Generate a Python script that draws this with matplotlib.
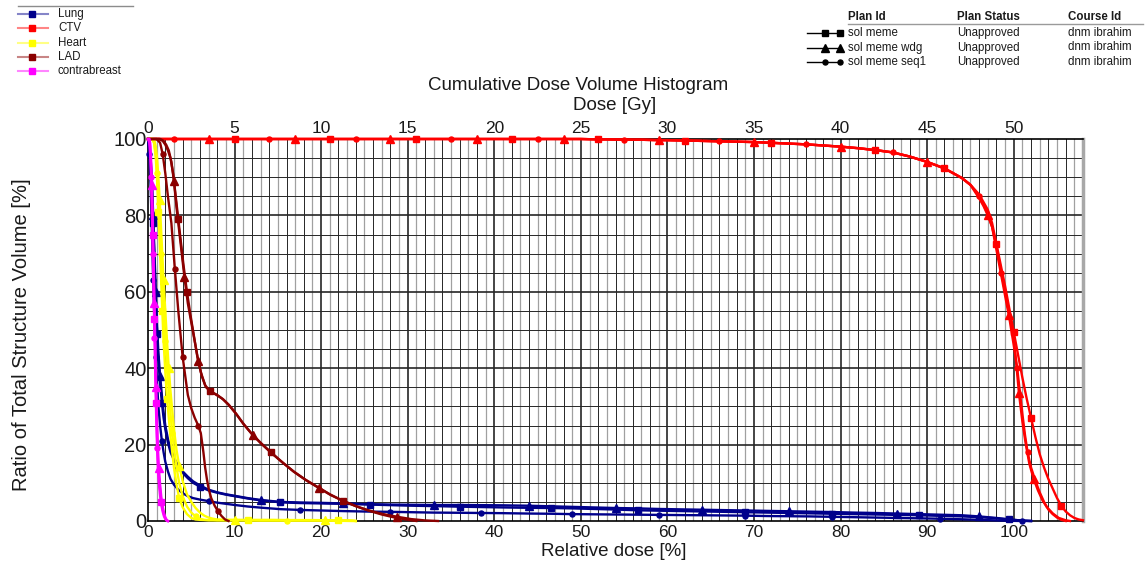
import numpy as np
import matplotlib
matplotlib.use("Agg")
import matplotlib.pyplot as plt
from matplotlib.lines import Line2D

plt.rcParams['font.family'] = ['Liberation Sans', 'DejaVu Sans']

W, H = 1147, 569

# ---------------------------------------------------------------- data
structures = ["Lung", "CTV", "Heart", "LAD", "contrabreast"]
structure_colors = ["#00008b", "#ff0000", "#ffff00", "#8b0000", "#ff00ff"]
legend_line_colors = ["#8585c8", "#ff8585", "#ffff85", "#c88585", "#ff85ff"]

plan_ids = ["sol meme", "sol meme wdg", "sol meme seq1"]
plan_status = ["Unapproved", "Unapproved", "Unapproved"]
course_ids = ["dnm ibrahim", "dnm ibrahim", "dnm ibrahim"]

x_ticks_pct = [0, 10, 20, 30, 40, 50, 60, 70, 80, 90, 100]
y_ticks_pct = [0, 20, 40, 60, 80, 100]
top_ticks_gy = [0, 5, 10, 15, 20, 25, 30, 35, 40, 45, 50]
prescription_gy = 50.0

# Lung (relative dose %, volume %)
lung_dose = [0, 0.15, 0.3, 0.45, 0.6, 0.75, 0.9, 1.05, 1.2, 1.4,
             1.6, 1.8, 2.0, 2.3, 2.6, 3.0, 3.5, 4.0, 4.6, 5.2,
             6.0, 7.0, 8.0, 9.0, 10.0, 11.5, 13.0, 15.3, 17.5, 20.0,
             22.5, 25.7, 28.0, 30.5, 33.0, 36.0, 38.5, 41.0, 44.0, 46.5,
             49.0, 51.5, 54.0, 56.6, 59.0, 61.5, 64.0, 66.5, 69.0, 71.5,
             74.0, 76.5, 79.0, 81.5, 84.0, 86.5, 89.0, 91.5, 94.0, 96.0,
             98.0, 99.5, 101.0, 102.0]
lung_meme_vol = [100, 98, 94, 88, 78, 68, 58, 49, 42, 36,
                 31, 27, 24, 20.5, 18, 16, 14, 12.6, 11.2, 10.0,
                 9.0, 8.0, 7.4, 6.9, 6.5, 5.9, 5.4, 4.9, 4.7, 4.6,
                 4.5, 4.3, 4.15, 4.0, 3.9, 3.75, 3.65, 3.55, 3.45, 3.4,
                 3.3, 3.15, 3.0, 2.8, 2.7, 2.6, 2.5, 2.4, 2.3, 2.2,
                 2.1, 2.0, 1.9, 1.8, 1.7, 1.6, 1.5, 1.35, 1.2, 1.0,
                 0.7, 0.4, 0.1, 0]
lung_wdg_vol = [100, 98, 95, 89, 80, 70, 60, 51, 44, 38,
                33, 28.5, 25, 21.5, 19, 16.5, 14.5, 13.0, 11.6, 10.4,
                9.3, 8.2, 7.5, 7.0, 6.6, 6.0, 5.5, 5.0, 4.85, 4.75,
                4.6, 4.4, 4.3, 4.25, 4.2, 4.2, 4.15, 4.1, 4.0, 3.85,
                3.7, 3.55, 3.4, 3.3, 3.15, 3.05, 2.95, 2.85, 2.75, 2.65,
                2.55, 2.45, 2.35, 2.2, 2.1, 1.95, 1.8, 1.65, 1.5, 1.2,
                0.8, 0.4, 0.1, 0]
lung_seq1_vol = [100, 96, 88, 76, 63, 52, 43, 36, 30, 25,
                 21, 18, 15.5, 13, 11, 9.5, 8.2, 7.3, 6.5, 6.0,
                 5.6, 5.2, 4.8, 4.5, 4.2, 3.8, 3.5, 3.1, 2.9, 2.75,
                 2.6, 2.45, 2.4, 2.3, 2.2, 2.15, 2.1, 2.05, 1.95, 1.9,
                 1.8, 1.75, 1.7, 1.65, 1.6, 1.55, 1.5, 1.45, 1.4, 1.3,
                 1.25, 1.2, 1.1, 1.0, 0.9, 0.8, 0.7, 0.6, 0.45, 0.3,
                 0.15, 0.05, 0, 0]

# CTV: common plateau and shoulder, then separate fall-off per plan
ctv_shoulder_dose = list(range(0, 61)) + list(range(62, 95, 2)) + [95]
ctv_shoulder_vol = ([100.0] * 51
                    + [99.95, 99.9, 99.9, 99.85, 99.85, 99.8, 99.8, 99.75, 99.7, 99.7]
                    + [99.6, 99.5, 99.4, 99.3, 99.2, 99.0, 98.8, 98.6, 98.3,
                       98.0, 97.6, 97.1, 96.5, 95.4, 94.0, 92.3, 89.8]
                    + [88.0])
ctv_meme_tail_dose = [96, 97, 97.5, 98, 98.5, 99, 99.5, 100, 100.5, 101,
                      101.5, 102, 102.5, 103, 103.5, 104, 104.5, 105, 105.5, 106,
                      106.5, 107, 107.5, 108]
ctv_meme_tail_vol = [85.5, 81.5, 78, 72.5, 67, 61.5, 55.5, 49.5, 43.5, 37.5,
                     32, 27, 22, 17.5, 14, 11, 8.5, 6, 4, 2.5,
                     1.5, 0.8, 0.4, 0.2]
ctv_wdg_tail_dose = [96, 96.5, 97, 97.5, 98, 98.5, 99, 99.5, 100, 100.3,
                     100.6, 101, 101.4, 101.8, 102.3, 102.8, 103.3, 103.8, 104.5, 105.2,
                     106, 106.5]
ctv_wdg_tail_vol = [84.5, 82.5, 80, 77, 72, 66, 60, 54, 48, 41,
                    33.5, 26, 20, 15, 11, 8, 5.5, 3.7, 2, 0.8,
                    0.2, 0]
ctv_seq1_tail_dose = [96, 97, 97.5, 98, 98.5, 99, 99.5, 100, 100.4, 100.7,
                      101, 101.3, 101.6, 102, 102.5, 103, 103.5, 104, 104.5, 105,
                      105.5, 106]
ctv_seq1_tail_vol = [85, 80.5, 77, 71, 65, 59, 53, 46, 40, 34,
                     28, 22.5, 18, 14, 10.5, 7.5, 5, 3, 1.8, 0.9,
                     0.3, 0]

# Heart
heart_dose = [0, 0.5, 0.7, 0.9, 1.05, 1.2, 1.35, 1.5, 1.65, 1.8,
              2.0, 2.2, 2.4, 2.6, 2.8, 3.0, 3.3, 3.6, 4.0, 4.5,
              5.0, 5.5, 6.0, 6.5, 7.0, 7.5, 8.0, 9.0, 10, 11.5,
              13, 14.5, 16, 17.5, 19, 20.5, 22, 23.5, 24.0]
heart_meme_vol = [100, 100, 99, 95, 89, 81, 73, 64, 55, 47,
                  39, 32, 27, 22, 18, 14, 9.5, 6, 3.6, 1.8,
                  0.8, 0.4, 0.3, 0.25, 0.25, 0.25, 0.25, 0.25, 0.25, 0.2,
                  0.2, 0.2, 0.2, 0.2, 0.2, 0.2, 0.15, 0.1, 0]
heart_wdg_vol = [100, 100, 100, 98, 95, 90, 84, 77, 70, 63,
                 55, 47, 40, 34, 29, 24, 18.5, 14.5, 10.5, 7,
                 5, 3.4, 2.2, 1.4, 0.9, 0.6, 0.4, 0.3, 0.3, 0.3,
                 0.3, 0.3, 0.25, 0.25, 0.25, 0.2, 0.2, 0.1, 0]
heart_seq1_vol = [100, 100, 99, 96, 91, 85, 78, 70, 62, 55,
                  47, 40, 34, 28, 23, 19, 14, 10, 6.5, 3.8,
                  2.2, 1.2, 0.6, 0.3, 0.2, 0.2, 0.15, 0.15, 0.15, 0.15,
                  0.1, 0.1, 0.1, 0.1, 0.1, 0.1, 0.05, 0, 0]

# LAD
lad_meme_dose = [0, 1.3, 1.7, 2.0, 2.3, 2.6, 2.9, 3.2, 3.5, 3.8,
                 4.1, 4.5, 4.9, 5.3, 5.7, 6.1, 6.6, 7.2, 7.9, 8.6,
                 9.3, 10.1, 11.0, 12.0, 13.0, 14.2, 15.5, 16.8, 18.2, 19.6,
                 21.0, 22.5, 24.0, 25.5, 27.0, 28.5, 29.8, 31.0]
lad_meme_vol = [100, 100, 99.5, 98.5, 97, 95, 91, 85, 79, 73,
                67, 60, 54, 48.5, 43, 39, 35.5, 34, 33, 32,
                30.5, 28.3, 25.5, 22.8, 20.5, 18.0, 15.4, 13.0, 10.8, 8.9,
                7.0, 5.3, 3.9, 2.7, 1.7, 0.9, 0.4, 0]
lad_wdg_dose = [0, 1.4, 1.8, 2.1, 2.4, 2.7, 3.0, 3.3, 3.6, 3.9,
                4.2, 4.6, 5.0, 5.4, 5.8, 6.2, 6.7, 7.3, 8.0, 8.7,
                9.4, 10.2, 11.1, 12.1, 13.1, 14.3, 15.6, 16.9, 18.3, 19.7,
                21.1, 22.6, 24.1, 25.6, 27.2, 28.8, 30.4, 32.0, 33.5]
lad_wdg_vol = [100, 100, 99.5, 98.5, 97, 94, 89, 82, 76, 70,
               64, 57, 52, 47, 42, 38, 35, 33.8, 33, 31.8,
               30.2, 28, 25.2, 22.5, 20.2, 17.7, 15.2, 12.8, 10.6, 8.7,
               6.8, 5.2, 3.8, 2.7, 1.8, 1.1, 0.5, 0.15, 0]
lad_seq1_dose = [0, 1.0, 1.4, 1.7, 2.0, 2.3, 2.7, 3.1, 3.5, 4.0,
                 4.6, 5.0, 5.4, 5.8, 6.1, 6.4, 6.6, 6.8, 7.0, 7.3,
                 7.7, 8.1, 8.5, 8.9, 9.3]
lad_seq1_vol = [100, 100, 99, 96, 91, 85, 78, 66, 55, 43,
                33, 29.5, 27, 25, 23, 18, 14, 11, 8.5, 6,
                4, 2.5, 1.3, 0.4, 0]

# contralateral breast
cb_dose = [0, 0.15, 0.25, 0.35, 0.45, 0.55, 0.65, 0.75, 0.85, 0.95,
           1.05, 1.15, 1.25, 1.4, 1.55, 1.7, 1.85, 2.0, 2.15, 2.3]
cb_meme_vol = [100, 100, 98, 93, 85, 75, 64, 53, 42, 31,
               22, 16, 12, 8, 5, 3, 1.6, 0.7, 0.2, 0]
cb_wdg_vol = [100, 100, 99, 95, 88, 79, 68, 57, 46, 35,
              26, 19, 14, 9.5, 6, 3.8, 2.1, 1.0, 0.3, 0]
cb_seq1_vol = [100, 99, 96, 90, 81, 70, 59, 48, 37, 27,
               19, 13.5, 10, 6.5, 4, 2.4, 1.2, 0.5, 0.1, 0]

curves = {
    "Lung": [(lung_dose, lung_meme_vol), (lung_dose, lung_wdg_vol),
             (lung_dose, lung_seq1_vol)],
    "CTV": [(ctv_shoulder_dose + ctv_meme_tail_dose, ctv_shoulder_vol + ctv_meme_tail_vol),
            (ctv_shoulder_dose + ctv_wdg_tail_dose, ctv_shoulder_vol + ctv_wdg_tail_vol),
            (ctv_shoulder_dose + ctv_seq1_tail_dose, ctv_shoulder_vol + ctv_seq1_tail_vol)],
    "Heart": [(heart_dose, heart_meme_vol), (heart_dose, heart_wdg_vol),
              (heart_dose, heart_seq1_vol)],
    "LAD": [(lad_meme_dose, lad_meme_vol), (lad_wdg_dose, lad_wdg_vol),
            (lad_seq1_dose, lad_seq1_vol)],
    "contrabreast": [(cb_dose, cb_meme_vol), (cb_dose, cb_wdg_vol),
                     (cb_dose, cb_seq1_vol)],
}

# plan styles: marker, marker size, start of marker spacing (fraction of axes diagonal)
plan_markers = ["s", "^", "o"]
plan_marker_sizes = [4.4, 5.8, 3.6]
plan_mark_start = [0.089, 0.059, 0.030]
mark_step = 0.089

# ---------------------------------------------------------------- figure
fig = plt.figure(figsize=(W / 100, H / 100), dpi=100)
fig.patch.set_facecolor("white")


def fx(px):
    return px / W


def fy(py):
    return 1 - py / H


ax = fig.add_axes([fx(148), fy(521), (1083 - 148) / W, (521 - 139) / H])
ax.set_xlim(0, 108)
ax.set_ylim(0, 100)

# grid: gray at odd percent, black at even percent, heavier every 10 %
for v in np.arange(1, 108, 2):
    ax.axvline(v, color="#a0a0a0", lw=0.9, zorder=0.2)
for v in np.arange(2, 108, 2):
    ax.axvline(v, color="#262626", lw=1.2 if v % 10 == 0 else 0.7, zorder=0.3)
for v in np.arange(5, 100, 5):
    ax.axhline(v, color="#262626", lw=1.2 if v % 20 == 0 else 0.7, zorder=0.3)

for name, color in zip(structures, structure_colors):
    for (dose, vol), mk, ms, st in zip(curves[name], plan_markers,
                                       plan_marker_sizes, plan_mark_start):
        ax.plot(dose, vol, color=color, lw=1.7, marker=mk, ms=ms,
                mfc=color, mec=color, markevery=(st, mark_step),
                solid_joinstyle="round", clip_on=False, zorder=3)

for side in ["left", "bottom", "top"]:
    ax.spines[side].set_color("black")
    ax.spines[side].set_linewidth(1.2)
ax.spines["right"].set_color("#a8a8a8")
ax.spines["right"].set_linewidth(2.5)

ax.set_xticks(x_ticks_pct)
ax.set_yticks(y_ticks_pct)
ax.tick_params(axis="x", length=0, labelsize=12.5, pad=3, colors="#1a1a1a")
ax.tick_params(axis="y", length=0, labelsize=14.5, pad=1, colors="#1a1a1a")

secax = ax.secondary_xaxis("top", functions=(lambda d: d * prescription_gy / 100,
                                             lambda g: g * 100 / prescription_gy))
secax.set_xticks(top_ticks_gy)
secax.tick_params(length=0, labelsize=12.5, pad=2, colors="#1a1a1a")
secax.spines["top"].set_visible(False)

fig.text(fx(578), fy(86), "Cumulative Dose Volume Histogram", fontsize=13.5,
         ha="center", va="center", color="#1a1a1a")
fig.text(fx(615), fy(106), "Dose [Gy]", fontsize=13.5, ha="center", va="center",
         color="#1a1a1a")
fig.text(fx(614), fy(552), "Relative dose [%]", fontsize=13.5, ha="center",
         va="center", color="#1a1a1a")
fig.text(fx(22), fy(335), "Ratio of Total Structure Volume [%]", fontsize=14.5,
         rotation=90, ha="center", va="center", color="#1a1a1a")

# structure legend (top left)
fig.add_artist(Line2D([fx(18), fx(133)], [fy(6), fy(6)], color="#8c8c8c", lw=1.0))
for i, (name, color, lcolor) in enumerate(zip(structures, structure_colors,
                                               legend_line_colors)):
    y = 14 + i * 14.3
    fig.add_artist(Line2D([fx(18), fx(48)], [fy(y), fy(y)], color=lcolor, lw=1.5))
    fig.add_artist(Line2D([fx(32)], [fy(y)], color=color, marker="s", ms=4.5,
                          mec=color, mfc=color, lw=0))
    fig.text(fx(58), fy(y), name, fontsize=8.3, ha="left", va="center",
             color="#1a1a1a")

# plan legend (top right)
header_y = 17
for label, xp in zip(["Plan Id", "Plan Status", "Course Id"], [848, 957, 1068]):
    fig.text(fx(xp), fy(header_y), label, fontsize=8.3, fontweight="bold",
             ha="left", va="center", color="#1a1a1a")
fig.add_artist(Line2D([fx(848), fx(1143)], [fy(24), fy(24)], color="#9a9a9a", lw=1.0))
for i, (pid, status, course, mk, ms) in enumerate(zip(plan_ids, plan_status, course_ids,
                                                      plan_markers, plan_marker_sizes)):
    y = 33 + i * 14.5
    fig.add_artist(Line2D([fx(807), fx(841)], [fy(y), fy(y)], color="black", lw=1.0))
    fig.add_artist(Line2D([fx(825), fx(840)], [fy(y), fy(y)], color="black", lw=0,
                          marker=mk, ms=ms, mfc="black", mec="black"))
    fig.text(fx(848), fy(y), pid, fontsize=8.3, ha="left", va="center", color="#1a1a1a")
    fig.text(fx(957), fy(y), status, fontsize=8.3, ha="left", va="center", color="#1a1a1a")
    fig.text(fx(1068), fy(y), course, fontsize=8.3, ha="left", va="center", color="#1a1a1a")

fig.savefig("out.png", dpi=100, facecolor="white")
